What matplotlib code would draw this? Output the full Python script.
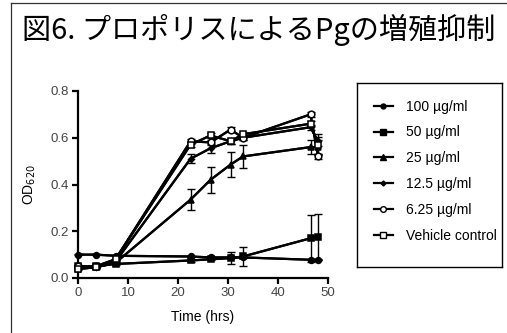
import matplotlib
matplotlib.use("Agg")
import matplotlib.pyplot as plt
from matplotlib.lines import Line2D

plt.rcParams["font.family"] = ["Liberation Sans", "DejaVu Sans"]

# sampling times (hrs)
time_hrs = [0, 3.5, 7.5, 22.5, 26.5, 30.5, 33, 46.5, 48]

od_100 = [0.10, 0.10, 0.095, 0.092, 0.088, 0.088, 0.088, 0.078, 0.078]
err_100 = [0.003, 0.003, 0.003, 0.003, 0.003, 0.003, 0.003, 0.003, 0.003]
od_50 = [0.05, 0.05, 0.06, 0.075, 0.08, 0.085, 0.092, 0.17, 0.175]
err_50 = [0.005, 0.005, 0.005, 0.005, 0.005, 0.025, 0.04, 0.1, 0.1]
od_25 = [0.04, 0.045, 0.065, 0.335, 0.42, 0.485, 0.52, 0.56, 0.56]
err_25 = [0.005, 0.005, 0.005, 0.045, 0.055, 0.055, 0.05, 0.03, 0.03]
od_12 = [0.045, 0.045, 0.07, 0.51, 0.555, 0.585, 0.60, 0.645, 0.585]
err_12 = [0.003, 0.003, 0.003, 0.02, 0.02, 0.01, 0.01, 0.01, 0.02]
od_6 = [0.05, 0.05, 0.08, 0.585, 0.58, 0.635, 0.60, 0.70, 0.52]
err_6 = [0.003, 0.003, 0.003, 0.01, 0.01, 0.01, 0.01, 0.01, 0.01]
od_vc = [0.04, 0.045, 0.08, 0.57, 0.61, 0.585, 0.615, 0.66, 0.57]
err_vc = [0.003, 0.003, 0.003, 0.01, 0.01, 0.01, 0.01, 0.01, 0.045]

labels = ["100 µg/ml", "50 µg/ml", "25 µg/ml", "12.5 µg/ml", "6.25 µg/ml", "Vehicle control"]
series = [od_100, od_50, od_25, od_12, od_6, od_vc]
errors = [err_100, err_50, err_25, err_12, err_6, err_vc]
markers = ["o", "s", "^", "D", "o", "s"]
msizes = [4.2, 4.5, 4.8, 3.0, 4.8, 5.0]
faces = ["black", "black", "black", "black", "white", "white"]

W, H = 507, 333
fig = plt.figure(figsize=(W / 100, H / 100), dpi=100)

# outer frame (top and left visible)
fig.add_artist(Line2D([11 / W, 11 / W], [0, 1 - 3 / H], color="#333333", lw=0.9))
fig.add_artist(Line2D([11 / W, 1], [1 - 3 / H, 1 - 3 / H], color="#333333", lw=0.9))

fig.text(22 / W, 1 - 30 / H, "図6. プロポリスによるPgの増殖抑制", fontsize=21,
         family=["Noto Sans CJK JP", "DejaVu Sans"], va="center", ha="left")

ax = fig.add_axes([78 / W, (H - 278) / H, 250 / W, 187 / H])
handles = []
for y, e, m, ms, fc in zip(series, errors, markers, msizes, faces):
    ax.errorbar(time_hrs, y, yerr=e, color="black", lw=1.6, elinewidth=1.0,
                capsize=3, capthick=1.0, clip_on=False, zorder=3)
    ax.plot(time_hrs, y, marker=m, ms=ms, mfc=fc, mec="black", mew=1.1,
            color="black", lw=1.6, clip_on=False, zorder=4)
    handles.append(Line2D([], [], color="black", lw=1.6, marker=m, ms=ms * 0.85,
                          mfc=fc, mec="black", mew=1.0))

ax.set_xlim(0, 50)
ax.set_ylim(0, 0.8)
ax.set_xticks([0, 10, 20, 30, 40, 50])
ax.set_yticks([0.0, 0.2, 0.4, 0.6, 0.8])
ax.set_yticklabels(["0.0", "0.2", "0.4", "0.6", "0.8"])
for s in ["top", "right"]:
    ax.spines[s].set_visible(False)
for s in ["left", "bottom"]:
    ax.spines[s].set_linewidth(1.6)
ax.tick_params(direction="out", length=4, width=1.6, labelsize=9.5,
               labelcolor="#444444", pad=2.5)
ax.set_xlabel("Time (hrs)", fontsize=10, labelpad=8)
fig.text(30 / W, 1 - 185 / H, "OD$_{620}$", rotation=90, fontsize=10,
         ha="center", va="center")

# legend box
lax = fig.add_axes([357 / W, (H - 267) / H, 145 / W, 184 / H])
lax.set_xticks([])
lax.set_yticks([])
for s in lax.spines.values():
    s.set_linewidth(1.0)
lax.legend(handles, labels, loc="upper left", bbox_to_anchor=(0.0, 1.0),
           frameon=False, fontsize=10, handlelength=1.4, handletextpad=0.9,
           labelspacing=0.85, borderaxespad=0.0, borderpad=1.2)

fig.savefig("out.png", dpi=100)
